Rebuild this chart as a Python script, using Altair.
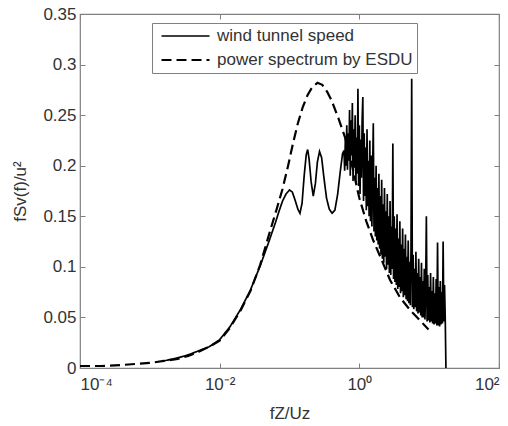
import altair as alt
import pandas as pd

# ---------------- data ----------------
SERIES = ["wind tunnel speed", "power spectrum by ESDU"]

# ESDU power spectrum (log10 of fZ/Uz, fSv/u^2)
esdu_logf = [-4.0, -3.7, -3.4, -3.0, -2.8, -2.6, -2.45, -2.3, -2.15, -2.0, -1.85, -1.7,
             -1.56, -1.42, -1.28, -1.18, -1.1, -1.02, -0.95, -0.88, -0.81, -0.74, -0.68,
             -0.6, -0.53, -0.46, -0.4, -0.3, -0.2, -0.1, 0.0, 0.1, 0.2, 0.3, 0.44, 0.58,
             0.73, 0.87, 0.99]
esdu_val = [0.002, 0.002, 0.003, 0.005, 0.007, 0.009, 0.012, 0.016, 0.021, 0.027, 0.040, 0.057,
            0.076, 0.102, 0.135, 0.158, 0.177, 0.200, 0.222, 0.242, 0.258, 0.270, 0.277,
            0.282, 0.280, 0.273, 0.265, 0.247, 0.227, 0.199, 0.168, 0.145, 0.126, 0.110, 0.087, 0.070,
            0.057, 0.047, 0.038]

# wind tunnel speed spectrum
wt_logf = [-2.8, -2.6, -2.45, -2.3, -2.15, -2.0, -1.85, -1.7, -1.56, -1.42, -1.3, -1.2, -1.15,
           -1.1, -1.05, -1.0, -0.96, -0.92, -0.88, -0.85, -0.82, -0.79, -0.76, -0.74, -0.72,
           -0.69, -0.66, -0.63, -0.60, -0.57, -0.54, -0.51, -0.47, -0.43, -0.39, -0.35, -0.31,
           -0.27, -0.24,
           -0.22, -0.21, -0.20, -0.19, -0.18, -0.17, -0.16, -0.15, -0.14, -0.13, -0.12, -0.11,
           -0.10, -0.09, -0.08, -0.07, -0.06, -0.05, -0.04, -0.03, -0.02, -0.01,
           0.00, 0.01, 0.02, 0.03, 0.04, 0.05, 0.06, 0.07, 0.08, 0.09,
           0.10, 0.11, 0.12, 0.13, 0.14, 0.15, 0.16, 0.17, 0.18, 0.19,
           0.20, 0.21, 0.22, 0.23, 0.24, 0.25, 0.26, 0.27, 0.28, 0.29,
           0.30, 0.31, 0.32, 0.33, 0.34, 0.35, 0.36, 0.37, 0.38, 0.39,
           0.40, 0.41, 0.42, 0.43, 0.44, 0.45, 0.46, 0.47, 0.48, 0.49,
           0.50, 0.51, 0.52, 0.53, 0.54, 0.55, 0.56, 0.57, 0.58, 0.59,
           0.60, 0.61, 0.62, 0.63, 0.64, 0.65, 0.66, 0.67, 0.68, 0.69,
           0.70, 0.71, 0.72, 0.73, 0.74, 0.75, 0.76, 0.77, 0.78, 0.79,
           0.80, 0.81, 0.82, 0.83, 0.84, 0.85, 0.86, 0.87, 0.88, 0.89,
           0.90, 0.91, 0.92, 0.93, 0.94, 0.95, 0.96, 0.97, 0.98, 0.99,
           1.00, 1.01, 1.02, 1.03, 1.04, 1.05, 1.06, 1.07, 1.08, 1.09,
           1.10, 1.11, 1.12, 1.13, 1.14, 1.15, 1.16, 1.17, 1.18, 1.19,
           1.20, 1.21, 1.22, 1.23, 1.24]
wt_val = [0.007, 0.010, 0.013, 0.017, 0.021, 0.028, 0.041, 0.058, 0.077, 0.101, 0.124, 0.144, 0.155,
          0.165, 0.172, 0.176, 0.174, 0.166, 0.157, 0.153, 0.163, 0.190, 0.211, 0.216, 0.207,
          0.184, 0.170, 0.182, 0.204, 0.214, 0.208, 0.190, 0.168, 0.157, 0.153, 0.156, 0.172,
          0.196, 0.212,
          0.215, 0.195, 0.228, 0.200, 0.240, 0.196, 0.232, 0.205, 0.255, 0.190, 0.245, 0.210,
          0.262, 0.185, 0.236, 0.198, 0.250, 0.182, 0.228, 0.192, 0.276, 0.180,
          0.240, 0.172, 0.226, 0.188, 0.245, 0.268, 0.165, 0.232, 0.170, 0.218,
          0.156, 0.236, 0.160, 0.205, 0.150, 0.225, 0.145, 0.210, 0.140, 0.195,
          0.242, 0.135, 0.188, 0.130, 0.200, 0.126, 0.178, 0.122, 0.192, 0.118,
          0.170, 0.112, 0.186, 0.108, 0.162, 0.104, 0.178, 0.110, 0.155, 0.098,
          0.172, 0.102, 0.150, 0.094, 0.165, 0.092, 0.140, 0.098, 0.222, 0.088,
          0.150, 0.085, 0.138, 0.082, 0.152, 0.078, 0.128, 0.080, 0.145, 0.074,
          0.122, 0.076, 0.138, 0.070, 0.118, 0.072, 0.132, 0.068, 0.110, 0.066,
          0.126, 0.064, 0.105, 0.062, 0.118, 0.286, 0.060, 0.112, 0.058, 0.098,
          0.060, 0.115, 0.056, 0.094, 0.054, 0.108, 0.055, 0.090, 0.052, 0.104,
          0.050, 0.086, 0.050, 0.098, 0.048, 0.082, 0.150, 0.046, 0.092, 0.047,
          0.080, 0.045, 0.094, 0.046, 0.076, 0.044, 0.090, 0.043, 0.074, 0.044,
          0.088, 0.042, 0.124, 0.042, 0.080, 0.041, 0.086, 0.043, 0.075, 0.044,
          0.125, 0.046, 0.082, 0.050, 0.000]

X_TICKS = [1e-4, 1e-2, 1e0, 1e2]
Y_TICKS = [0, 0.05, 0.1, 0.15, 0.2, 0.25, 0.3, 0.35]

# ---------------- table ----------------
rows = []
for i, (lf, v) in enumerate(zip(esdu_logf, esdu_val)):
    rows.append({"f": 10 ** lf, "v": v, "series": SERIES[1], "idx": i})
for i, (lf, v) in enumerate(zip(wt_logf, wt_val)):
    rows.append({"f": 10 ** lf, "v": v, "series": SERIES[0], "idx": i})
df = pd.DataFrame(rows)

FONT = "Liberation Sans"
TXT = "#333333"
FRAME = "#808080"

xscale = alt.Scale(type="log", domain=[1e-4, 1e2], nice=False)
yscale = alt.Scale(domain=[0, 0.35], nice=False)

x_label_expr = ("datum.value < 0.001 ? '10\u207b\u2074' : datum.value < 0.1 ? '10\u207b\u00b2' : "
                "datum.value < 10 ? '10\u2070' : '10\u00b2'")

legend = alt.Legend(
    title=None, orient="none", legendX=72, legendY=9,
    symbolType="stroke", symbolSize=2304, symbolStrokeWidth=1.8, symbolOffset=4,
    labelOffset=6, clipHeight=18, rowPadding=6, padding=4,
    strokeColor=FRAME, fillColor="white",
    labelFont=FONT, labelFontSize=17, labelColor=TXT, labelLimit=400,
)

lines = alt.Chart(df).mark_line(clip=True).encode(
    x=alt.X("f:Q", scale=xscale, title="fZ/Uz",
            axis=alt.Axis(values=X_TICKS, labelExpr=x_label_expr, grid=False, domain=False,
                          ticks=True, tickSize=5, offset=-5, tickColor=FRAME,
                          labelPadding=8, labelFont=FONT, labelFontSize=17, labelColor=TXT,
                          titleFont=FONT, titleFontSize=17, titleColor=TXT, titleFontWeight="normal",
                          titleY=50, titleBaseline="middle")),
    y=alt.Y("v:Q", scale=yscale, title="fSv(f)/u\u00b2",
            axis=alt.Axis(values=Y_TICKS, format=".2~f", grid=False, domain=False,
                          ticks=True, tickSize=5, offset=-5, tickColor=FRAME,
                          labelPadding=4, labelFont=FONT, labelFontSize=17, labelColor=TXT,
                          titleFont=FONT, titleFontSize=17, titleColor=TXT, titleFontWeight="normal",
                          titleX=-65, titleY=177, titleAngle=270, titleBaseline="middle")),
    color=alt.Color("series:N", scale=alt.Scale(domain=SERIES, range=["#000000", "#000000"]),
                    legend=legend),
    strokeDash=alt.StrokeDash("series:N", scale=alt.Scale(domain=SERIES, range=[[1, 0], [10, 5]]),
                              legend=legend),
    strokeWidth=alt.StrokeWidth("series:N", scale=alt.Scale(domain=SERIES, range=[1.7, 2.2]),
                                legend=None),
    order=alt.Order("idx:Q"),
)

mirror = alt.Chart(df).mark_point(opacity=0).encode(
    x=alt.X("f:Q", scale=xscale, title=None,
            axis=alt.Axis(orient="top", values=X_TICKS, labels=False, grid=False, domain=False,
                          tickSize=5, offset=-5, tickColor=FRAME)),
    y=alt.Y("v:Q", scale=yscale, title=None,
            axis=alt.Axis(orient="right", values=Y_TICKS, labels=False, grid=False, domain=False,
                          tickSize=5, offset=-5, tickColor=FRAME)),
)

chart = alt.layer(lines, mirror).resolve_axis(x="independent", y="independent").properties(
    width=419, height=354,
    autosize=alt.AutoSizeParams(type="none"),
    padding={"left": 80, "top": 14, "right": 9, "bottom": 58},
    background="white",
).configure_view(stroke=FRAME, strokeWidth=1.2)

chart.save("out.html", embed_options={"renderer": "svg", "actions": False})
